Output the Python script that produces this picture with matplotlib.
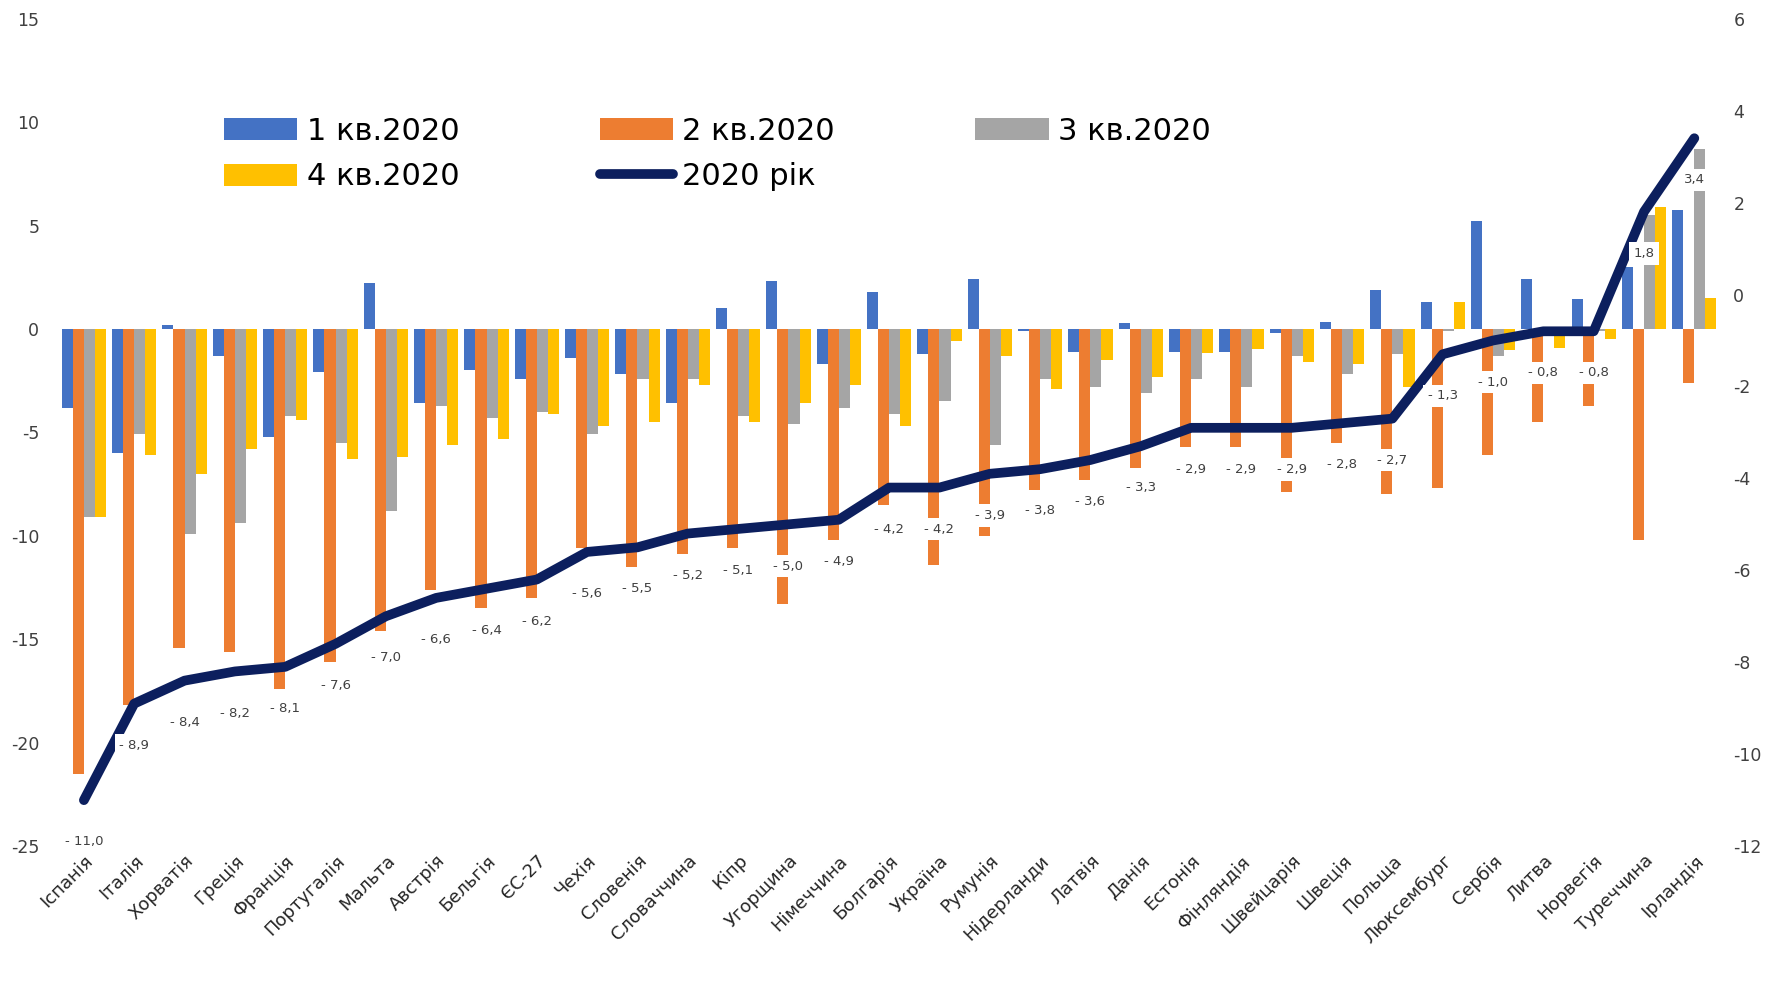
import matplotlib
matplotlib.use("Agg")
import matplotlib.pyplot as plt
import numpy as np

plt.rcParams["axes.unicode_minus"] = False

# країни та значення (зміна ВВП, %)
countries = ["Іспанія", "Італія", "Хорватія", "Греція", "Франція", "Португалія",
             "Мальта", "Австрія", "Бельгія", "ЄС-27", "Чехія", "Словенія",
             "Словаччина", "Кіпр", "Угорщина", "Німеччина", "Болгарія", "Україна",
             "Румунія", "Нідерланди", "Латвія", "Данія", "Естонія", "Фінляндія",
             "Швейцарія", "Швеція", "Польща", "Люксембург", "Сербія", "Литва",
             "Норвегія", "Туреччина", "Ірландія"]

q1 = [-3.8, -6.0, 0.2, -1.3, -5.2, -2.1, 2.2, -3.6, -2.0, -2.4, -1.4, -2.2,
      -3.6, 1.0, 2.3, -1.7, 1.8, -1.2, 2.4, -0.1, -1.1, 0.3, -1.1, -1.1,
      -0.2, 0.35, 1.9, 1.3, 5.2, 2.4, 1.45, 3.0, 5.75]
q2 = [-21.5, -18.2, -15.4, -15.6, -17.4, -16.1, -14.6, -12.6, -13.5, -13.0, -10.6, -11.5,
      -10.9, -10.6, -13.3, -10.2, -8.5, -11.4, -10.0, -7.8, -7.3, -6.7, -5.7, -5.7,
      -7.9, -5.5, -8.0, -7.7, -6.1, -4.5, -3.7, -10.2, -2.6]
q3 = [-9.1, -5.1, -9.9, -9.4, -4.2, -5.5, -8.8, -3.7, -4.3, -4.0, -5.1, -2.4,
      -2.4, -4.2, -4.6, -3.8, -4.1, -3.5, -5.6, -2.4, -2.8, -3.1, -2.4, -2.8,
      -1.3, -2.2, -1.2, -0.1, -1.3, -0.1, -0.1, 5.5, 8.7]
q4 = [-9.1, -6.1, -7.0, -5.8, -4.4, -6.3, -6.2, -5.6, -5.3, -4.1, -4.7, -4.5,
      -2.7, -4.5, -3.6, -2.7, -4.7, -0.6, -1.3, -2.9, -1.5, -2.3, -1.15, -0.96,
      -1.6, -1.7, -2.8, 1.3, -1.0, -0.9, -0.5, 5.9, 1.5]
year = [-11.0, -8.9, -8.4, -8.2, -8.1, -7.6, -7.0, -6.6, -6.4, -6.2, -5.6, -5.5,
        -5.2, -5.1, -5.0, -4.9, -4.2, -4.2, -3.9, -3.8, -3.6, -3.3, -2.9, -2.9,
        -2.9, -2.8, -2.7, -1.3, -1.0, -0.8, -0.8, 1.8, 3.4]

series_names = ["1 кв.2020", "2 кв.2020", "3 кв.2020", "4 кв.2020"]
colors = ["#4472C4", "#ED7D31", "#A5A5A5", "#FFC000"]
line_color = "#0c1f5e"

fig = plt.figure(figsize=(17.8, 9.85), dpi=100)

ax = fig.add_axes([0.033, 0.141, 0.933, 0.84])
x = np.arange(len(countries))
w = 0.22
bars = []
for k, vals in enumerate([q1, q2, q3, q4]):
    b = ax.bar(x + (k - 1.5) * w, vals, w, color=colors[k], label=series_names[k], zorder=2)
    bars.append(b)

ax.set_ylim(-25, 15)
ax.set_yticks(range(-25, 16, 5))
ax.set_xlim(-0.5, len(countries) - 0.5)
ax.set_xticks(x)
ax.set_xticklabels(countries, rotation=45, ha="right", rotation_mode="anchor",
                   fontsize=13, color="#262626")
ax.tick_params(axis="y", labelsize=12.5, colors="#404040", length=0, pad=14)
ax.tick_params(axis="x", length=0, pad=4)
for s in ax.spines.values():
    s.set_visible(False)

ax2 = ax.twinx()
line, = ax2.plot(x, year, color=line_color, lw=7, solid_capstyle="round",
                 label="2020 рік", zorder=3)
ax2.set_ylim(-12, 6)
ax2.set_yticks(range(-12, 7, 2))
ax2.tick_params(axis="y", labelsize=12.5, colors="#404040", length=0, pad=10)
for s in ax2.spines.values():
    s.set_visible(False)

for xi, v in zip(x, year):
    txt = ("- " if v < 0 else "") + f"{abs(v):.1f}".replace(".", ",")
    ax2.annotate(txt, (xi, v), xytext=(0, -30), textcoords="offset points",
                 ha="center", va="center", fontsize=9.5, color="#404040",
                 bbox=dict(boxstyle="square,pad=0.35", fc="white", ec="none"),
                 zorder=4)

handles = [bars[0], bars[3], bars[1], line, bars[2]]
labels = [series_names[0], series_names[3], series_names[1], "2020 рік", series_names[2]]
ax.legend(handles, labels, ncol=3, loc="upper left", bbox_to_anchor=(0.083, 0.915),
          frameon=False, fontsize=22, handlelength=2.4, handleheight=0.75,
          columnspacing=4.6, labelspacing=0.55, handletextpad=0.3)

fig.savefig("out.png", dpi=100)
